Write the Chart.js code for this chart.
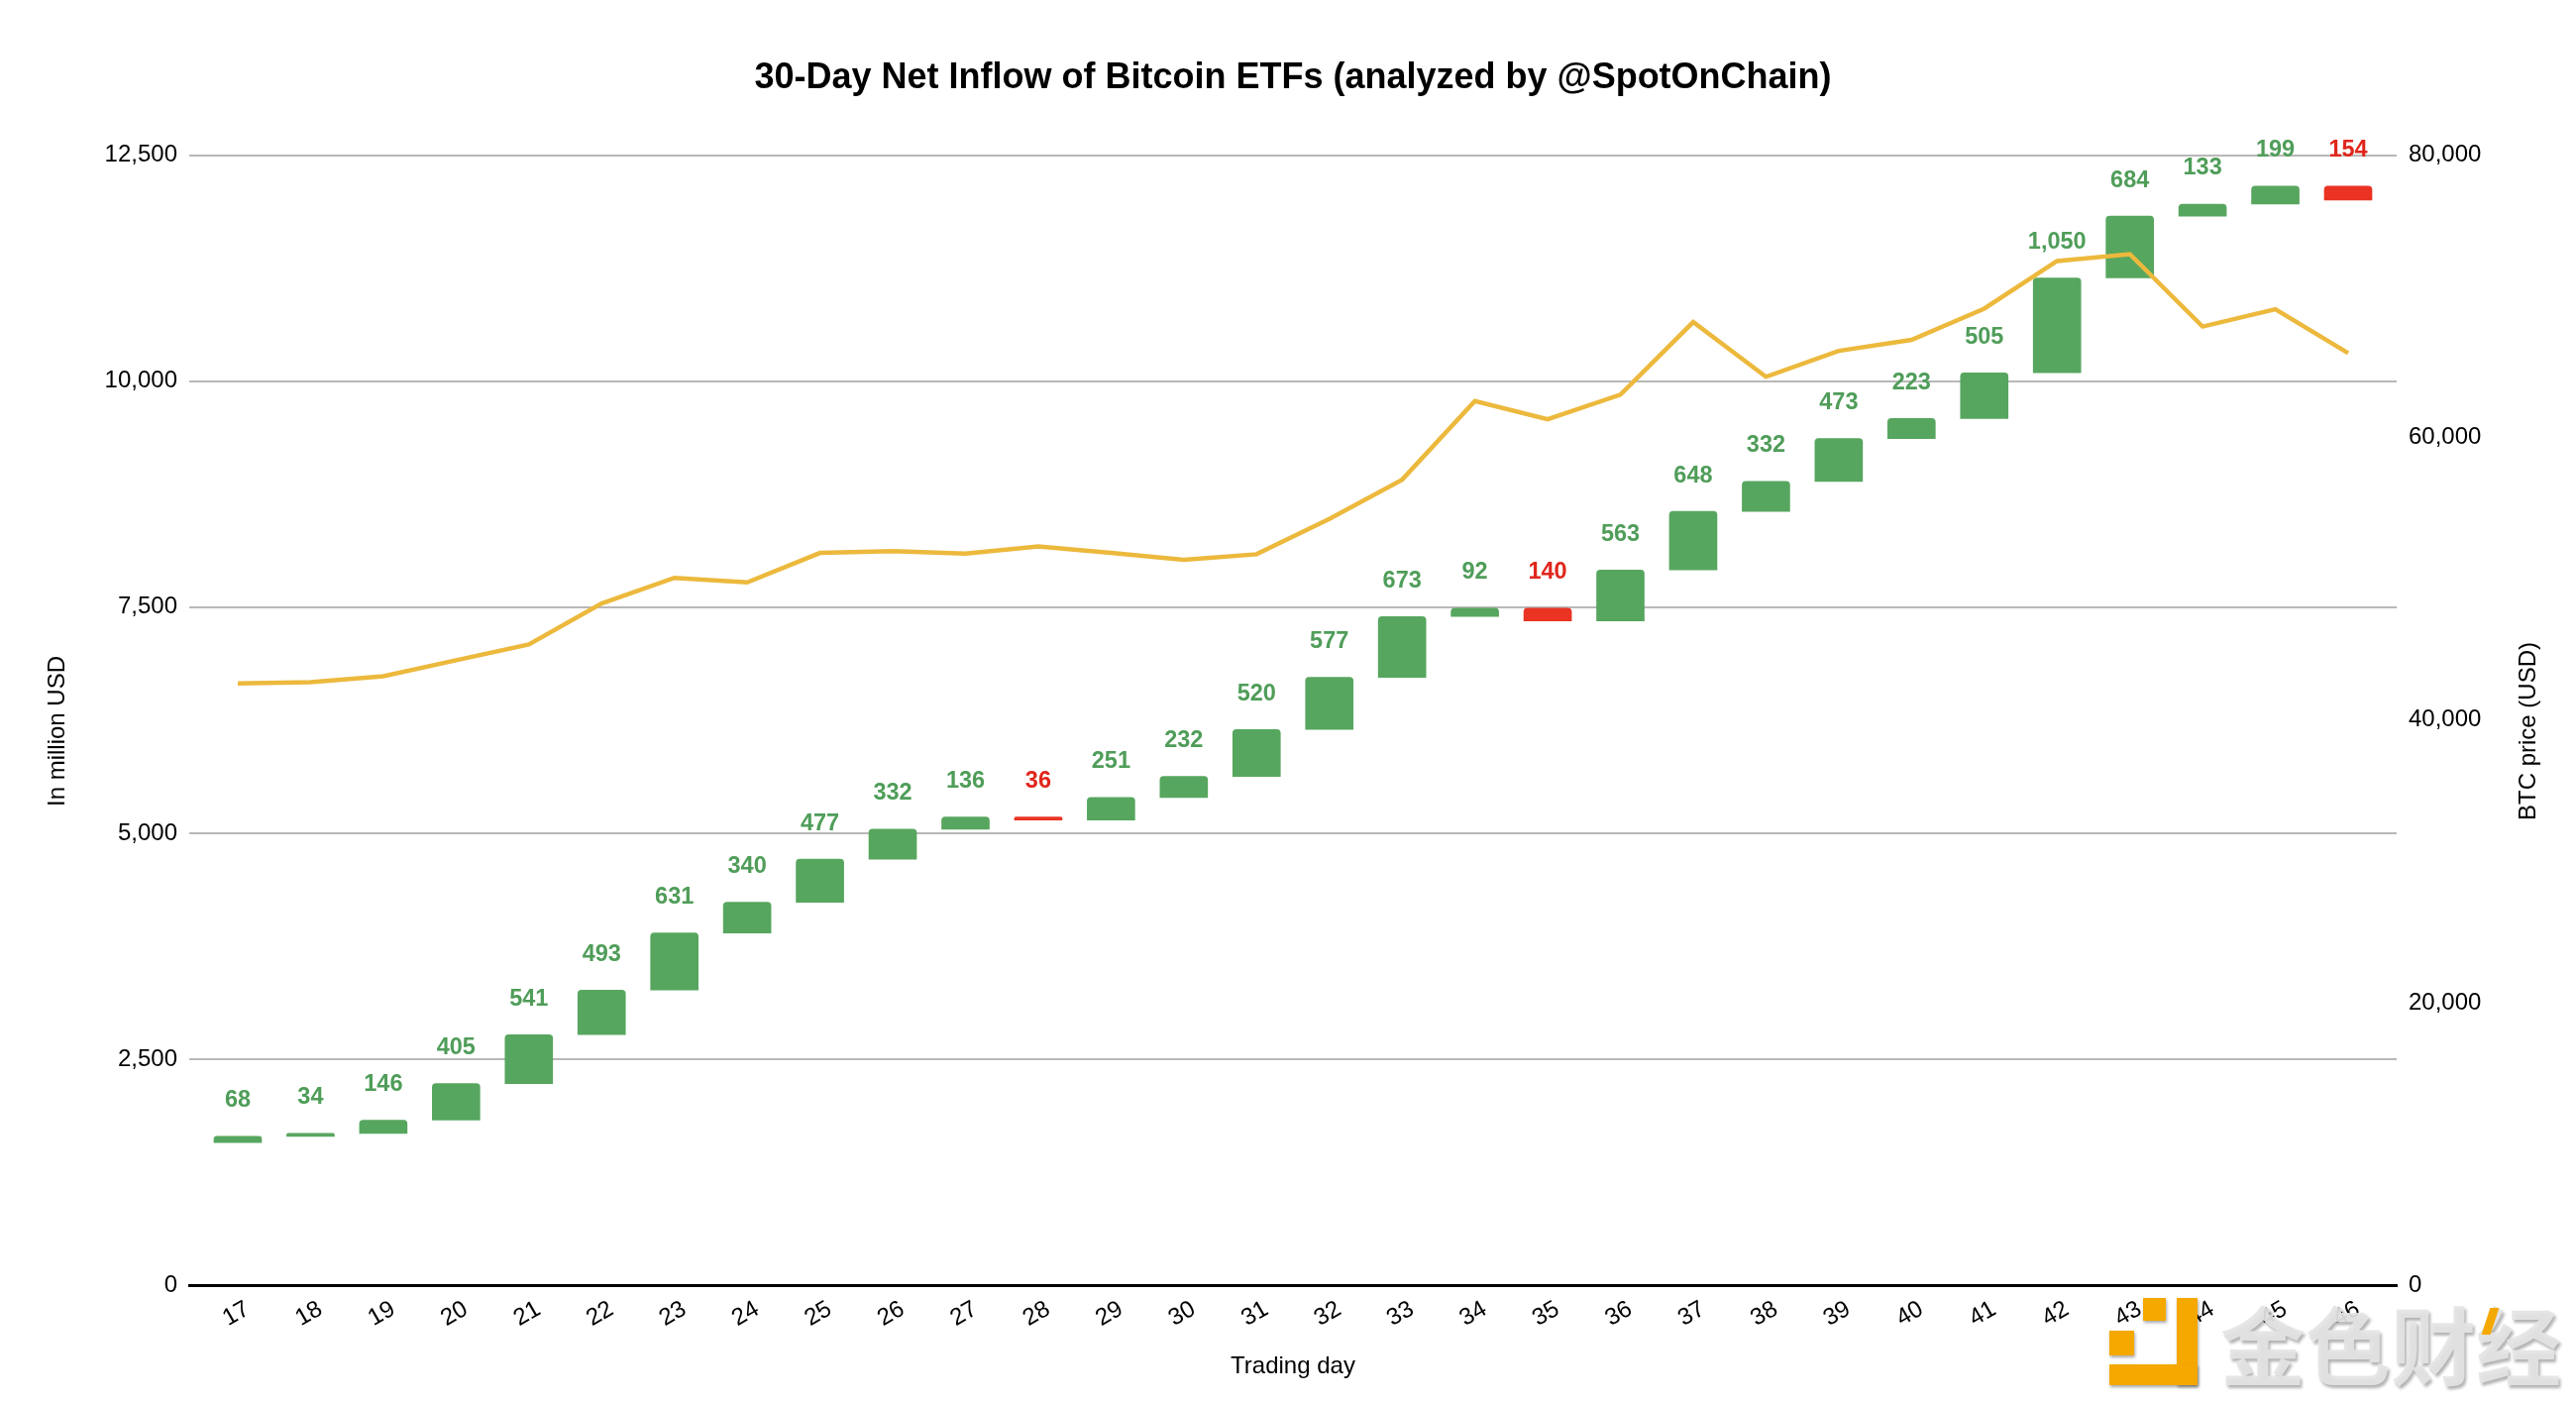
<!DOCTYPE html>
<html>
<head>
<meta charset="utf-8">
<title>30-Day Net Inflow of Bitcoin ETFs</title>
<script src="https://cdn.jsdelivr.net/npm/chart.js@4"></script>
<style>
    body { margin: 0; background: #fff; }
    #wrap { position: relative; width: 2600px; height: 1416px; overflow: hidden; }
    .logo { position: absolute; background: #f5a800; box-shadow: 1px 2px 3px rgba(0,0,0,.35); }
    #wm { position: absolute; left: 2241px; top: 1292px; font: 700 86px "Noto Sans CJK SC"; color: rgba(228,228,228,.92); text-shadow: 2px 3px 3px rgba(0,0,0,.3); white-space: nowrap; }
</style>
</head>
<body>
<div id="wrap">
    <canvas id="etfChart" width="2600" height="1416"></canvas>
    <div class="logo" style="left:2163px;top:1310px;width:23px;height:23px"></div>
    <div class="logo" style="left:2129px;top:1343px;width:25px;height:25px"></div>
    <div class="logo" style="left:2197px;top:1310px;width:21px;height:88px"></div>
    <div class="logo" style="left:2129px;top:1377px;width:89px;height:21px"></div>
    <div id="wm">金色财经</div>
    <div class="logo" style="left:2509px;top:1320px;width:9px;height:27px;transform:skewX(-18deg);box-shadow:none"></div>
</div>
<script>
    var GREEN = '#57a65f';
    var RED = '#ea3323';

    var days = [];
    for (var d = 17; d <= 46; d++) days.push(d);

    // daily net inflow, million USD
    var flows = [68, 34, 146, 405, 541, 493, 631, 340, 477, 332, 136, -36, 251, 232, 520,
        577, 673, 92, -140, 563, 648, 332, 473, 223, 505, 1050, 684, 133, 199, -154];
    var btcPrice = [42600, 42690, 43110, 44240, 45360, 48260, 50080, 49760, 51840, 51960,
        51790, 52310, 51840, 51350, 51750, 54250, 57030, 62600, 61310, 63050,
        68190, 64310, 66150, 66930, 69140, 72510, 73000, 67870, 69100, 65990];

    // flows before day 17 add up to this
    var running = 1577;
    var floating = flows.map(function (flow, i) {
        var bar = { x: days[i], y: [running, running + flow] };
        running += flow;
        return bar;
    });

    // value labels over the bars and the two vertical axis titles
    var flowLabels = {
        id: 'flowLabels',
        afterDatasetsDraw: function (chart) {
            var ctx = chart.ctx;
            var y = chart.scales.y;
            var x = chart.scales.x;
            ctx.save();
            ctx.font = 'bold 23.5px "Liberation Sans"';
            ctx.textAlign = 'center';
            ctx.textBaseline = 'middle';
            floating.forEach(function (bar, i) {
                var top = Math.max(bar.y[0], bar.y[1]);
                ctx.fillStyle = flows[i] < 0 ? '#e0261c' : '#4f9d59';
                ctx.fillText(Math.abs(flows[i]).toLocaleString('en-US'), x.getPixelForValue(bar.x), y.getPixelForValue(top) - 36);
            });
            ctx.fillStyle = '#000';
            ctx.font = '24px "Liberation Sans"';
            [['In million USD', 58], ['BTC price (USD)', 2552]].forEach(function (t) {
                ctx.save();
                ctx.translate(t[1], 738);
                ctx.rotate(-Math.PI / 2);
                ctx.fillText(t[0], 0, 0);
                ctx.restore();
            });
            ctx.restore();
        }
    };

    var tickFont = { family: '"Liberation Sans"', size: 24 };

    new Chart(document.getElementById('etfChart'), {
        data: {
            datasets: [{
                type: 'line',
                label: 'BTC price (USD)',
                data: btcPrice.map(function (p, i) { return { x: days[i], y: p }; }),
                yAxisID: 'y1',
                borderColor: '#ecb93d',
                borderWidth: 4.5,
                pointRadius: 0,
                tension: 0,
                order: 0
            }, {
                type: 'bar',
                label: 'Net inflow',
                data: floating,
                yAxisID: 'y',
                barThickness: 48,
                backgroundColor: flows.map(function (f) { return f < 0 ? RED : GREEN; }),
                borderSkipped: false,
                borderRadius: { topLeft: 4, topRight: 4, bottomLeft: 0, bottomRight: 0 },
                order: 1
            }]
        },
        options: {
            responsive: false,
            animation: false,
            devicePixelRatio: 1,
            layout: { padding: 0 },
            plugins: {
                legend: { display: false },
                tooltip: { enabled: false },
                title: {
                    display: true,
                    fullSize: false,
                    text: '30-Day Net Inflow of Bitcoin ETFs (analyzed by @SpotOnChain)',
                    color: '#000',
                    font: { family: '"Liberation Sans"', size: 36, weight: 'bold', lineHeight: 1.2 },
                    padding: { top: 57, bottom: 56.5 }
                }
            },
            scales: {
                x: {
                    type: 'linear',
                    offset: false,
                    min: 16.333,
                    max: 46.667,
                    afterBuildTicks: function (scale) {
                        scale.ticks = days.map(function (d) { return { value: d }; });
                    },
                    afterFit: function (scale) { scale.height = 119; },
                    grid: { display: false, drawTicks: false },
                    border: { color: '#000', width: 3 },
                    ticks: {
                        color: '#000',
                        font: tickFont,
                        minRotation: 30,
                        maxRotation: 30,
                        padding: 10,
                        labelOffset: 10,
                        autoSkip: false,
                        callback: function (v) { return String(v); }
                    },
                    title: { display: true, text: 'Trading day', color: '#000', font: tickFont, padding: { top: 22, bottom: 22 } }
                },
                y: {
                    position: 'left',
                    min: 0,
                    max: 12500,
                    afterFit: function (scale) { scale.width = 191; },
                    grid: {
                        color: function (c) { return c.tick.value === 0 ? 'rgba(0,0,0,0)' : '#b8b8b8'; },
                        lineWidth: 2,
                        drawTicks: false
                    },
                    border: { display: false },
                    ticks: {
                        color: '#000',
                        font: tickFont,
                        stepSize: 2500,
                        padding: 12,
                        callback: function (v) { return v.toLocaleString('en-US'); }
                    }
                },
                y1: {
                    position: 'right',
                    min: 0,
                    max: 80000,
                    afterFit: function (scale) { scale.width = 181; },
                    grid: { display: false, drawTicks: false },
                    border: { display: false },
                    ticks: {
                        color: '#000',
                        font: tickFont,
                        stepSize: 20000,
                        padding: 12,
                        callback: function (v) { return v.toLocaleString('en-US'); }
                    }
                }
            }
        },
        plugins: [flowLabels]
    });
</script>
</body>
</html>
